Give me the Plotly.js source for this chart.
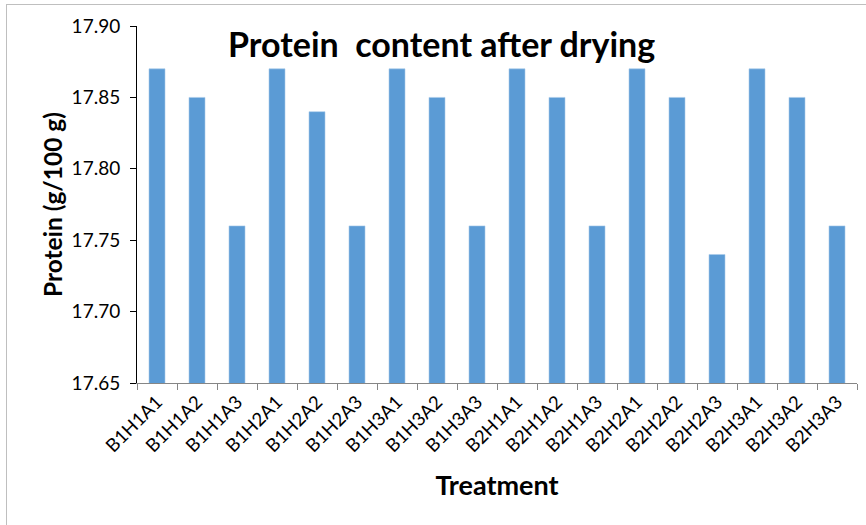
<!DOCTYPE html>
<html><head><meta charset="utf-8">
<script src="https://cdn.plot.ly/plotly-3.0.1.min.js"></script>
<style>html,body{margin:0;padding:0;background:#fff;overflow:hidden;}#frame{position:absolute;left:6px;top:4px;width:900px;height:600px;border:1px solid #BFBFBF;pointer-events:none;}</style>
</head><body>
<div id="chart" style="width:866px;height:525px;"></div>
<div id="frame"></div>
<script>
const categories = ["B1H1A1","B1H1A2","B1H1A3","B1H2A1","B1H2A2","B1H2A3","B1H3A1","B1H3A2","B1H3A3","B2H1A1","B2H1A2","B2H1A3","B2H2A1","B2H2A2","B2H2A3","B2H3A1","B2H3A2","B2H3A3"];
const protein = [17.87,17.85,17.76,17.87,17.84,17.76,17.87,17.85,17.76,17.87,17.85,17.76,17.87,17.85,17.74,17.87,17.85,17.76];
const yTicks = [17.65,17.70,17.75,17.80,17.85,17.90];
const yTickLabels = ["17.65","17.70","17.75","17.80","17.85","17.90"];

const font = "Lato, Open Sans, sans-serif";
Plotly.newPlot("chart", [{
  type: "bar", x: categories, y: protein, width: 0.4,
  marker: {color: "#5B9BD5", line: {color: "#A9CBEA", width: 0.6}},
  hoverinfo: "x+y"
}], {
  width: 866, height: 525,
  margin: {l: 137, r: 9, t: 26, b: 142},
  paper_bgcolor: "#fff", plot_bgcolor: "#fff",
  showlegend: false,
  title: {text: "<b>Protein  content after drying</b>", x: 0.51, xanchor: "center", y: 0.915, yanchor: "middle",
    font: {family: font, size: 34, color: "#000"}},
  xaxis: {type: "category", tickson: "boundaries", ticks: "outside", ticklen: 6, tickcolor: "#868686",
    showline: true, linecolor: "#868686", linewidth: 1, showgrid: false, zeroline: false,
    tickangle: -45, tickfont: {family: font, size: 18.5, color: "#000"},
    title: {text: "<b>Treatment</b>", font: {family: font, size: 27, color: "#000"}, standoff: 20}},
  yaxis: {range: [17.65, 17.90], tickvals: yTicks, ticktext: yTickLabels, ticks: "outside", ticklen: 6,
    tickcolor: "#000", showline: true, linecolor: "#000", linewidth: 1, showgrid: false, zeroline: false,
    tickfont: {family: font, size: 19, color: "#000"}, ticklabelstandoff: 6,
    title: {text: "<b>Protein (g/100 g)</b>", font: {family: font, size: 24.5, color: "#000"}, standoff: 2}}
}, {displayModeBar: false, staticPlot: true});
</script>
</body></html>
